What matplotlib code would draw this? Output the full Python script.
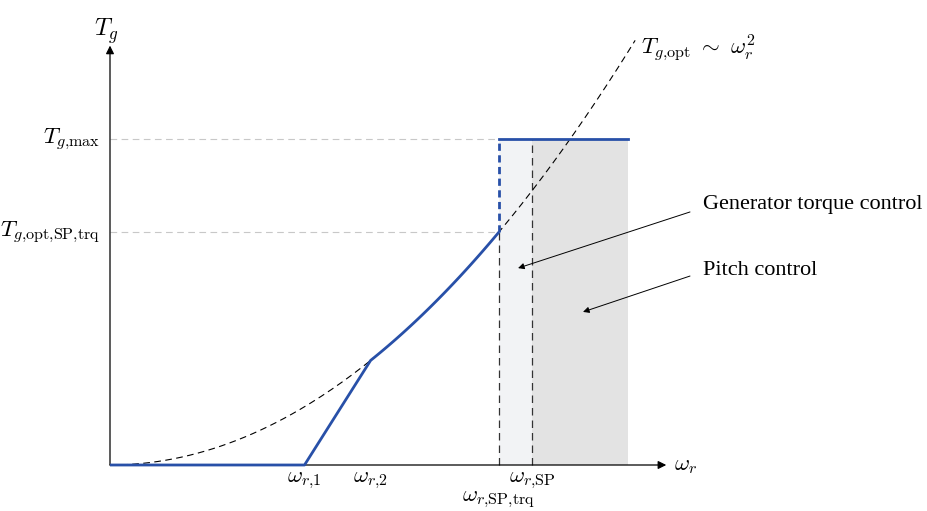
import numpy as np
import matplotlib
matplotlib.use("Agg")
import matplotlib.pyplot as plt

plt.rcParams['mathtext.fontset'] = 'cm'
plt.rcParams['font.family'] = ['Liberation Serif', 'DejaVu Serif']

# Normalised values (omega relative to omega_SP,trq, torque relative to T_opt at omega_SP,trq)
w1 = 0.50
w2 = 0.67
w_sp_trq = 1.0
w_sp = 1.085
w_end = 1.332
T_opt_sp = 1.0
T_max = 1.40
w_curve_end = 1.35
x_axis_end = 1.43
y_axis_end = 1.80

xtick_pos = [w1, w2, w_sp]
xtick_labels = [r'$\omega_{r{,}1}$', r'$\omega_{r{,}2}$', r'$\omega_{r{,}\mathrm{SP}}$']
ytick_pos = [T_max, T_opt_sp]
ytick_labels = [r'$T_{g{,}\mathrm{max}}$', r'$T_{g{,}\mathrm{opt{,}SP{,}trq}}$']

blue = '#2850a8'

fig = plt.figure(figsize=(9.28, 5.11), dpi=100)
ax = fig.add_axes([0, 0, 1, 1])
ax.set_xlim(-110/389, 818/389)
ax.set_ylim(-46/233, 465/233)
ax.axis('off')

# shaded regions
ax.fill_between([w_sp_trq, w_sp], 0, T_max, color='#f2f3f5', lw=0, zorder=0)
ax.fill_between([w_sp, w_end], 0, T_max, color='#e3e3e3', lw=0, zorder=0)

# reference dashed grey lines
ax.plot([0, w_sp_trq], [T_max, T_max], color='#c8c8c8', lw=0.8, ls=(0, (6, 4)), zorder=1)
ax.plot([0, w_sp_trq], [T_opt_sp, T_opt_sp], color='#c8c8c8', lw=0.8, ls=(0, (6, 4)), zorder=1)

# vertical dashed black lines
ax.plot([w_sp_trq, w_sp_trq], [0, T_opt_sp], color='#333333', lw=0.9, ls=(0, (6, 4)), zorder=2)
ax.plot([w_sp, w_sp], [0, T_max], color='#333333', lw=0.9, ls=(0, (6, 4)), zorder=2)

# optimal torque curve (quadratic)
wc = np.linspace(0, w_curve_end, 200)
ax.plot(wc, wc**2, color='black', lw=0.8, ls=(0, (6, 4)), zorder=2)

# control curve
seg_w = np.linspace(w2, w_sp_trq, 100)
ctrl_x = np.concatenate([[0, w1], seg_w])
ctrl_y = np.concatenate([[0, 0], seg_w**2])
ax.plot(ctrl_x, ctrl_y, color=blue, lw=2.0, solid_capstyle='butt', zorder=4)
ax.plot([w_sp_trq, w_sp_trq], [T_opt_sp, T_max], color=blue, lw=2.0, ls=(0, (2.6, 1.6)), zorder=4)
ax.plot([w_sp_trq, w_end], [T_max, T_max], color=blue, lw=2.0, zorder=4)

# axes arrows
arrow = dict(arrowstyle='-|>', color='black', lw=0.9, mutation_scale=12, shrinkA=0, shrinkB=0)
ax.annotate('', xy=(x_axis_end, 0), xytext=(0, 0), arrowprops=arrow, zorder=3)
ax.annotate('', xy=(0, y_axis_end), xytext=(0, 0), arrowprops=arrow, zorder=3)

fs = 16.5
ax.text(-0.01, 1.86, r'$T_g$', fontsize=fs + 1, ha='center', va='center')
ax.text(x_axis_end + 0.02, 0, r'$\omega_r$', fontsize=fs, ha='left', va='center')
for xp, lab in zip(xtick_pos, xtick_labels):
    ax.text(xp, -0.065, lab, fontsize=fs, ha='center', va='center')
ax.text(w_sp_trq, -0.15, r'$\omega_{r{,}\mathrm{SP{,}trq}}$', fontsize=fs, ha='center', va='center')
for yp, lab in zip(ytick_pos, ytick_labels):
    ax.text(-0.025, yp, lab, fontsize=fs, ha='right', va='center')
ax.text(1.365, 1.79, r'$T_{g{,}\mathrm{opt}}\ \sim\ \omega_r^2$', fontsize=fs, ha='left', va='center')

# annotations
ann = dict(arrowstyle='-|>', color='black', lw=0.7, mutation_scale=9, shrinkA=0, shrinkB=0)
ax.annotate('', xy=(1.049, 0.845), xytext=(1.491, 1.086), arrowprops=ann)
ax.annotate('', xy=(1.216, 0.657), xytext=(1.491, 0.811), arrowprops=ann)
ax.text(1.524, 1.116, 'Generator torque control', fontsize=16, ha='left', va='center')
ax.text(1.524, 0.833, 'Pitch control', fontsize=16, ha='left', va='center')

fig.savefig('out.png', dpi=100)
